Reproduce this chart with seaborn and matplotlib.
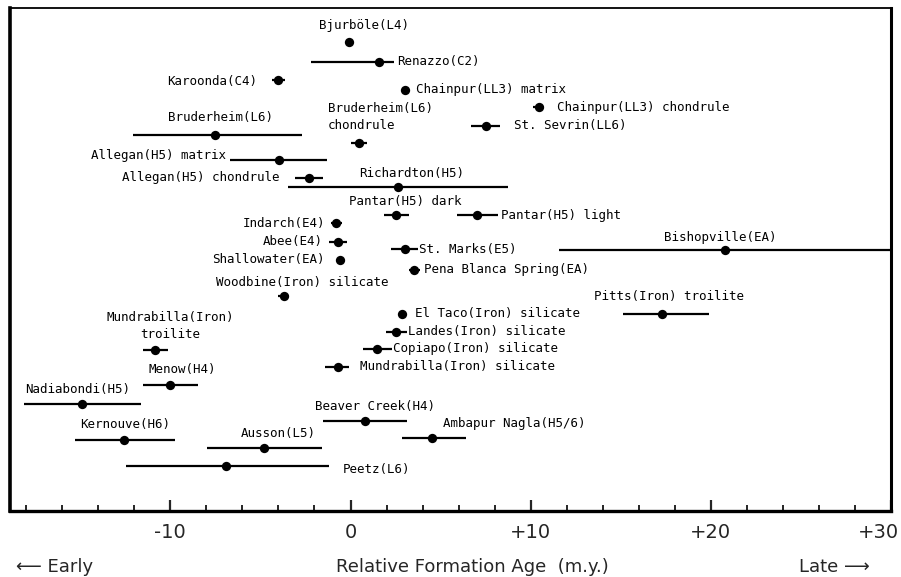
import matplotlib
matplotlib.use("Agg")
import matplotlib.pyplot as plt
import matplotlib.transforms as mtransforms
from matplotlib.ticker import MultipleLocator, FixedLocator
import numpy as np
import pandas as pd
import seaborn as sns

# ---------------- data ----------------
names = [
    "Bjurböle(L4)", "Renazzo(C2)", "Karoonda(C4)", "Chainpur(LL3) matrix",
    "Chainpur(LL3) chondrule", "Bruderheim(L6)", "Bruderheim(L6)\nchondrule",
    "St. Sevrin(LL6)", "Allegan(H5) matrix", "Allegan(H5) chondrule",
    "Richardton(H5)", "Pantar(H5) dark", "Pantar(H5) light", "Indarch(E4)",
    "Abee(E4)", "Shallowater(EA)", "St. Marks(E5)", "Pena Blanca Spring(EA)",
    "Bishopville(EA)", "Woodbine(Iron) silicate", "El Taco(Iron) silicate",
    "Pitts(Iron) troilite", "Landes(Iron) silicate", "Copiapo(Iron) silicate",
    "Mundrabilla(Iron)\ntroilite", "Mundrabilla(Iron) silicate", "Menow(H4)",
    "Nadiabondi(H5)", "Beaver Creek(H4)", "Ambapur Nagla(H5/6)",
    "Kernouve(H6)", "Ausson(L5)", "Peetz(L6)",
]
age = [-0.1, 1.6, -4.0, 3.0, 10.45, -7.5, 0.45, 7.5, -3.95, -2.3,
       2.65, 2.55, 7.0, -0.8, -0.7, -0.6, 3.0, 3.55, 20.8, -3.7,
       2.85, 17.3, 2.55, 1.45, -10.85, -0.7, -10.0, -14.9, 0.8, 4.55,
       -12.55, -4.8, -6.9]
err_lo = [0, 3.8, 0.35, 0, 0.3, 4.6, 0.45, 0.8, 2.75, 0.8,
          6.1, 0.7, 1.1, 0.3, 0.5, 0, 0.75, 0.3, 9.2, 0.3,
          0, 2.2, 0.6, 0.75, 0.65, 0.7, 1.5, 3.2, 2.35, 1.7,
          2.75, 3.15, 5.55]
err_hi = [0, 0.8, 0.35, 0, 0.3, 4.8, 0.45, 0.8, 2.65, 0.8,
          6.1, 0.7, 1.2, 0.3, 0.5, 0, 0.75, 0.3, 10.0, 0.3,
          0, 2.6, 0.6, 0.85, 0.7, 0.6, 1.55, 3.25, 2.35, 1.85,
          2.8, 3.2, 5.7]
# vertical plotting row (top -> bottom)
row = [42, 62, 80, 90, 107, 135, 143, 126, 160, 178,
       187, 215, 215, 223, 242, 260, 249, 270, 250, 296,
       314, 314, 332, 349, 350, 367, 385, 404, 421, 438,
       440, 448, 466]

tick_values = [-10, 0, 10, 20, 30]
tick_labels = ["-10", "0", "+10", "+20", "+30"]

# label layout (pixel offsets from point, alignment)
lab_dx = [15, 18, -21, 11, 18, 5, -31, 28, -53, -30,
          13, 9, 24, -11, -15, -15, 14, 10, -5, 18,
          13, 7, 12, 16, 15, 22, 12, -4, 10, 11,
          1, 14, 117]
lab_dy = [17, 0, -1, 0, 0, 17, 26, 0, 5, 1,
          14, 14, 0, 0, 0, 0, 0, 0, 12, 13,
          0, 17, 0, 0, 24, 0, 15, 14, 14, 14,
          15, 14, -4]
lab_ha = ["center", "left", "right", "left", "left", "center", "left", "left", "right", "right",
          "center", "center", "left", "right", "right", "right", "left", "left", "center", "center",
          "left", "center", "left", "left", "center", "left", "center", "center", "center", "left",
          "center", "center", "left"]

df = pd.DataFrame({"name": names, "age": age, "lo": err_lo, "hi": err_hi, "row": row})
df["xmin"] = df["age"] - df["lo"]
df["xmax"] = df["age"] + df["hi"]

# ---------------- figure ----------------
sns.set_style("white")
plt.rcParams["font.family"] = ["DejaVu Sans"]

fig = plt.figure(figsize=(9.01, 5.77), dpi=100)
ax = fig.add_axes([10 / 901, 66 / 577, 881 / 901, 503 / 577])

bars = df[(df["lo"] > 0) | (df["hi"] > 0)]
ax.hlines(bars["row"], bars["xmin"], bars["xmax"], color="black", lw=1.6, zorder=2)
sns.scatterplot(data=df, x="age", y="row", color="black", s=45,
                edgecolor="black", linewidth=0, ax=ax, zorder=3, legend=False)

for i in range(len(df)):
    ax.annotate(names[i], xy=(age[i], row[i]), xytext=(lab_dx[i], lab_dy[i]),
                textcoords="offset pixels", ha=lab_ha[i], va="center",
                multialignment="left" if lab_ha[i] != "center" else "center",
                fontsize=9, family="DejaVu Sans Mono", color="black",
                linespacing=1.35)

ax.set_xlim(-18.9, 30.0)
ax.set_ylim(511, 8)
ax.set_yticks([])
ax.set_ylabel("")

ax.xaxis.set_major_locator(FixedLocator(tick_values))
ax.set_xticklabels(tick_labels)
ax.xaxis.set_minor_locator(MultipleLocator(2))
ax.tick_params(axis="x", which="major", direction="in", length=8, width=1.6,
               labelsize=14, pad=9, bottom=True, top=False)
ax.tick_params(axis="x", which="minor", direction="in", length=4.5, width=1.4,
               bottom=True, top=False)
labs = ax.get_xticklabels()
labs[-1].set_horizontalalignment("right")
labs[-1].set_transform(labs[-1].get_transform() +
                       mtransforms.ScaledTranslation(8 / 100, 0, fig.dpi_scale_trans))

for side, lw in [("left", 2.6), ("right", 2.2), ("bottom", 2.4), ("top", 1.3)]:
    ax.spines[side].set_visible(True)
    ax.spines[side].set_linewidth(lw)
    ax.spines[side].set_color("black")

ax.set_xlabel("Relative Formation Age  (m.y.)", fontsize=13)
ax.xaxis.set_label_coords((472 - 10) / 881, (511 - 567) / 503)
ax.xaxis.label.set_va("center")

fig.text(16 / 901, (577 - 567) / 577, "⟵ Early", fontsize=13, ha="left", va="center")
fig.text(870 / 901, (577 - 567) / 577, "Late ⟶", fontsize=13, ha="right", va="center")

fig.savefig("out.png", dpi=100)
